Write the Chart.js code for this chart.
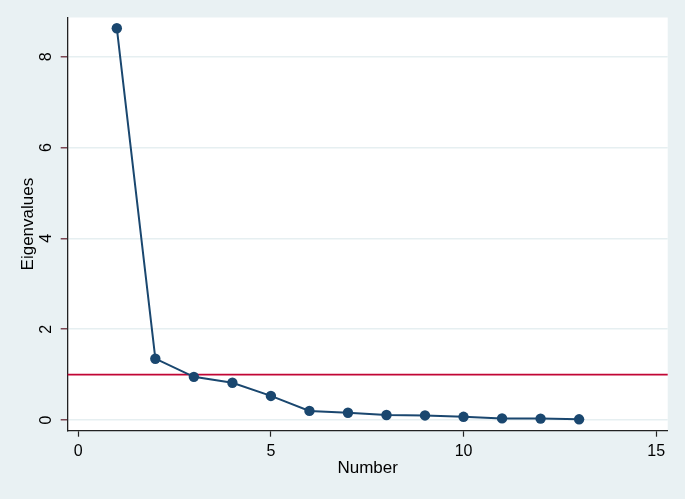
<!DOCTYPE html>
<html>
<head>
<meta charset="utf-8">
<script src="https://cdn.jsdelivr.net/npm/chart.js@4/dist/chart.umd.min.js"></script>
<style>
  html, body { margin: 0; padding: 0; background: #e9f1f3; }
  #wrap { width: 685px; height: 499px; }
</style>
</head>
<body>
<div id="wrap"><canvas id="c" width="685" height="499"></canvas></div>
<script>
const numbers = [1, 2, 3, 4, 5, 6, 7, 8, 9, 10, 11, 12, 13];
const eigenvalues = [8.63, 1.35, 0.95, 0.82, 0.53, 0.20, 0.16, 0.11, 0.10, 0.07, 0.035, 0.03, 0.015];
const xTicks = [0, 5, 10, 15];
const yTicks = [0, 2, 4, 6, 8];
const refValue = 1;

const FONT = '"Liberation Sans", Arial, sans-serif';

const bgPlugin = {
  id: 'bg',
  beforeDraw(chart) {
    const { ctx, chartArea: a } = chart;
    ctx.save();
    ctx.fillStyle = '#ffffff';
    ctx.fillRect(a.left, a.top, a.right - a.left, a.bottom - a.top);
    ctx.restore();
  }
};

const refLinePlugin = {
  id: 'refLine',
  beforeDatasetsDraw(chart) {
    const { ctx, chartArea: a, scales: { y } } = chart;
    const py = y.getPixelForValue(refValue);
    ctx.save();
    ctx.strokeStyle = '#c10534';
    ctx.lineWidth = 1.6;
    ctx.beginPath();
    ctx.moveTo(a.left, py);
    ctx.lineTo(a.right, py);
    ctx.stroke();
    ctx.restore();
  }
};

const yLabelPlugin = {
  id: 'yLabels',
  afterDraw(chart) {
    const { ctx, scales: { y } } = chart;
    ctx.save();
    ctx.fillStyle = '#000';
    ctx.font = '16px ' + FONT;
    ctx.textAlign = 'center';
    ctx.textBaseline = 'middle';
    y.ticks.forEach(t => {
      const py = y.getPixelForValue(t.value);
      ctx.save();
      ctx.translate(46.5, py);
      ctx.rotate(-Math.PI / 2);
      ctx.fillText(String(t.value), 0, 0);
      ctx.restore();
    });
    ctx.restore();
  }
};

new Chart(document.getElementById('c'), {
  type: 'line',
  data: {
    datasets: [{
      data: numbers.map((n, i) => ({ x: n, y: eigenvalues[i] })),
      borderColor: '#1a476f',
      backgroundColor: '#1a476f',
      borderWidth: 2,
      pointRadius: 5.2,
      pointBorderWidth: 0,
      pointHoverRadius: 5.2,
      tension: 0,
      fill: false
    }]
  },
  options: {
    responsive: false,
    animation: false,
    events: [],
    layout: { padding: { top: 17.5, right: 17.3, left: 0, bottom: 0 } },
    plugins: { legend: { display: false }, tooltip: { enabled: false } },
    scales: {
      x: {
        type: 'linear',
        min: -0.275,
        max: 15.3,
        afterBuildTicks(scale) { scale.ticks = xTicks.map(v => ({ value: v })); },
        afterFit(scale) { scale.height = 68.3; },
        grid: { drawOnChartArea: false, drawTicks: true, tickLength: 6, tickColor: '#222', tickWidth: 1.2 },
        border: { display: true, color: '#222', width: 1.3 },
        ticks: { color: '#000', font: { family: FONT, size: 16 }, padding: 5, maxRotation: 0 },
        title: { display: true, text: 'Number', color: '#000', font: { family: FONT, size: 17 }, padding: { top: 0, bottom: 20.5 } }
      },
      y: {
        type: 'linear',
        min: -0.236,
        max: 8.866,
        afterBuildTicks(scale) { scale.ticks = yTicks.map(v => ({ value: v })); },
        afterFit(scale) { scale.width = 67.7; },
        grid: { color: '#e6eff1', lineWidth: 1.6, drawTicks: true, tickLength: 7, tickColor: '#5e1c2a', tickWidth: 1.2 },
        border: { display: true, color: '#222', width: 1.3 },
        ticks: { display: false },
        title: { display: true, text: 'Eigenvalues', color: '#000', font: { family: FONT, size: 17 }, padding: { top: 17.8, bottom: 0 } }
      }
    }
  },
  plugins: [bgPlugin, refLinePlugin, yLabelPlugin]
});
</script>
</body>
</html>
